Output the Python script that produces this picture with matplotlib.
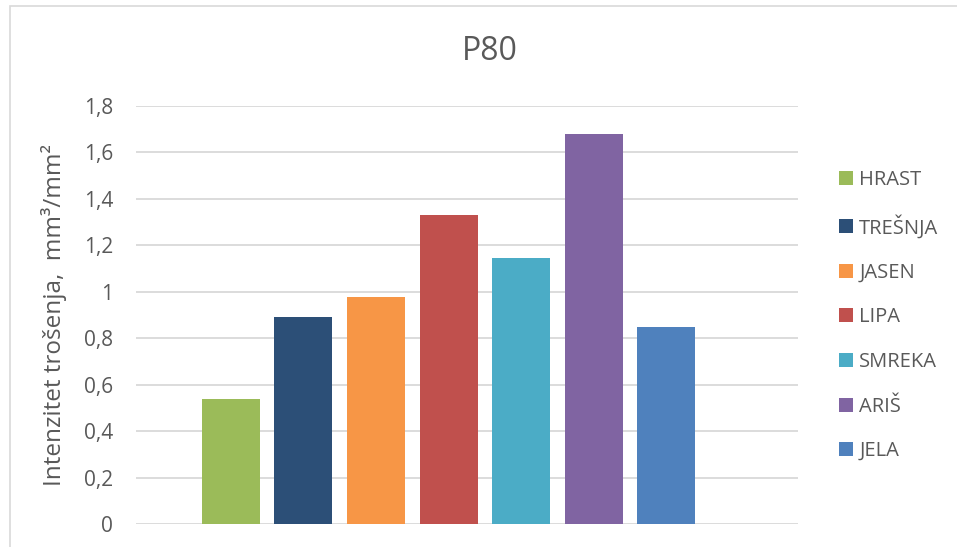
import matplotlib
matplotlib.use('Agg')
import matplotlib.pyplot as plt
from matplotlib.patches import Rectangle
from matplotlib.ticker import FuncFormatter

# --- data
species = ['HRAST', 'TREŠNJA', 'JASEN', 'LIPA', 'SMREKA', 'ARIŠ', 'JELA']
wear = [0.537, 0.890, 0.977, 1.330, 1.145, 1.679, 0.847]
colors = ['#9BBB59', '#2C4F77', '#F79646', '#C0504D', '#4BACC6', '#8064A2', '#4F81BD']
yticks = [0, 0.2, 0.4, 0.6, 0.8, 1.0, 1.2, 1.4, 1.6, 1.8]

plt.rcParams['font.family'] = ['Open Sans', 'DejaVu Sans']
grey = '#595959'

fig = plt.figure(figsize=(9.57, 5.47), dpi=100)
ax = fig.add_axes([136/957, 1 - 524/547, (798 - 136)/957, (524 - 106)/547])

# light frame around the chart area (only left and top visible in the crop)
fig.patches.append(Rectangle((9.5/957, -0.1), 1.2, 1.1 - 6/547, transform=fig.transFigure,
                             fill=False, edgecolor='#D9D9D9', linewidth=1.2))

for i, (name, val, c) in enumerate(zip(species, wear, colors)):
    ax.bar(i, val, width=0.8, color=c, label=name, zorder=3)

ax.set_xlim(-1.31, 7.82)
ax.set_ylim(0, 1.8)
ax.set_yticks(yticks)
ax.yaxis.set_major_formatter(FuncFormatter(lambda v, p: f'{v:g}'.replace('.', ',')))
ax.set_xticks([])
ax.tick_params(axis='y', length=0, pad=16.5, labelsize=15, labelcolor=grey)
ax.grid(axis='y', color='#D9D9D9', linewidth=1.3, zorder=0)
for s in ax.spines.values():
    s.set_visible(False)

ax.set_ylabel('Intenzitet trošenja,  mm³/mm²', fontsize=17.5, color=grey)
ax.yaxis.set_label_coords(-0.104, 0.5)

fig.text(490/957, 1 - 51/547, 'P80', ha='center', va='center', fontsize=23, color=grey)

leg = ax.legend(loc='upper left', bbox_to_anchor=(839/957, 1 - 170/547),
                bbox_transform=fig.transFigure, frameon=False, fontsize=14.5,
                handlelength=0.7, handleheight=0.7, handletextpad=0.3,
                labelspacing=1.22, borderpad=0, borderaxespad=0)
for t in leg.get_texts():
    t.set_color(grey)

fig.savefig('out.png', dpi=100)
